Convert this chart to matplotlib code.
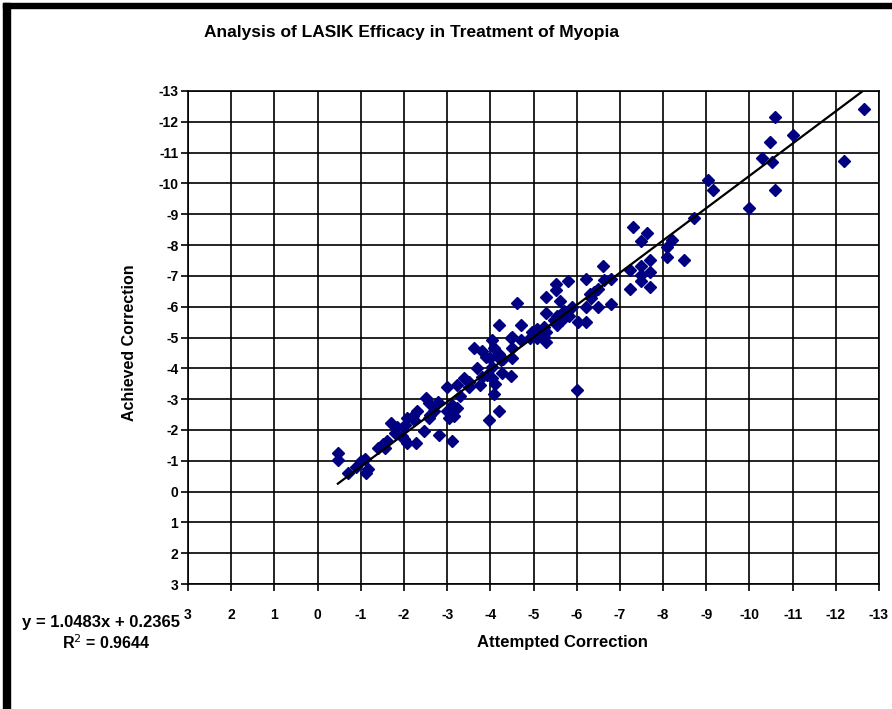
import matplotlib

matplotlib.use("Agg")
import matplotlib.pyplot as plt
import numpy as np
from matplotlib.patches import Rectangle

# attempted vs achieved correction (diopters)
attempted = [
    -12.65, -10.6, -11.0, -10.48, -10.3, -10.52, -12.2, -9.03, -9.15, -10.6, -10.0,
    -8.72, -7.3, -7.63, -7.5, -8.2, -8.09, -8.09, -8.49, -7.7, -7.5, -7.7, -7.23,
    -7.5, -7.5, -7.7, -7.23, -6.62, -6.63,
    -6.21, -5.8, -5.52, -6.5, -6.4, -5.52, -5.28, -5.62, -6.33, -4.61, -6.21, -6.5,
    -6.8, -5.28, -5.71, -5.55, -5.82, -5.48, -5.67, -6.02, -6.21, -4.7, -5.55, -5.24,
    -5.09, -4.97, -5.28, -5.24, -5.09, -5.28, -4.5, -4.7, -4.93,
    -4.2, -4.49, -4.05, -3.62, -3.81, -4.08, -4.2, -4.51, -4.0, -4.24, -4.51, -3.7,
    -4.05, -4.27, -4.47, -3.81, -4.05, -3.39, -3.5, -3.76, -4.1, -3.0, -3.23, -4.08,
    -3.9, -3.93, -2.5, -2.8, -2.57, -3.11, -3.23, -3.0, -3.15, -3.04, -2.3, -2.07,
    -2.23, -1.69, -3.97,
    -0.47, -0.47, -0.71, -1.0, -1.09, -1.17, -1.11, -1.51, -1.61, -1.84, -1.8, -1.57,
    -1.96, -2.03, -2.0, -2.27, -2.07, -2.46, -2.81, -2.21, -2.57,
    -6.0, -3.11, -4.2, -2.7, -3.5, -4.3, -5.0, -5.9, -6.3, -6.8, -3.3, -2.6, -1.4,
    -0.9,
]
achieved = [
    -12.4, -12.17, -11.57, -11.33, -10.82, -10.7, -10.72, -10.12, -9.8, -9.8, -9.2,
    -8.87, -8.57, -8.39, -8.13, -8.17, -7.93, -7.61, -7.53, -7.53, -7.31, -7.14, -7.2,
    -7.03, -6.82, -6.64, -6.56, -7.33, -6.85,
    -6.9, -6.82, -6.74, -6.58, -6.47, -6.53, -6.31, -6.2, -6.28, -6.13, -5.99, -5.99,
    -6.1, -5.8, -5.85, -5.7, -5.7, -5.56, -5.56, -5.5, -5.5, -5.4, -5.4, -5.35,
    -5.27, -5.18, -5.18, -5.02, -4.97, -4.84, -5.02, -4.91, -4.97,
    -5.4, -4.99, -4.91, -4.65, -4.56, -4.65, -4.48, -4.65, -4.32, -4.27, -4.32, -4.0,
    -4.05, -3.84, -3.76, -3.73, -3.68, -3.68, -3.57, -3.46, -3.48, -3.38, -3.46, -3.16,
    -4.37, -3.78, -3.03, -2.9, -2.87, -2.82, -2.71, -2.62, -2.44, -2.39, -2.6, -2.39,
    -2.33, -2.23, -2.33,
    -1.26, -1.04, -0.61, -0.99, -1.07, -0.72, -0.61, -1.53, -1.63, -2.09, -1.9, -1.42,
    -1.8, -2.17, -1.69, -1.58, -1.58, -1.96, -1.85, -2.45, -2.39,
    -3.3, -1.65, -2.6, -2.6, -3.4, -4.3, -5.1, -6.0, -6.4, -6.9, -3.1, -2.5, -1.4,
    -0.8,
]

# linear trendline as reported on the chart
SLOPE, INTERCEPT, R2 = 1.0483, 0.2365, 0.9644
ticks = list(range(3, -14, -1))

W, H = 892, 709
fig = plt.figure(figsize=(W / 100, H / 100), dpi=100)
plt.rcParams["font.family"] = ["Liberation Sans", "DejaVu Sans"]


def px(x, y):
    return x / W, 1 - y / H


ax = fig.add_axes([188 / W, 1 - 584 / H, (879 - 188) / W, (584 - 91) / H])
ax.set_xlim(3, -13)
ax.set_ylim(3, -13)
ax.set_xticks(ticks)
ax.set_yticks(ticks)
ax.set_xticklabels([str(t) for t in ticks], fontsize=10, fontweight="bold")
ax.set_yticklabels([str(t) for t in ticks], fontsize=10, fontweight="bold")
ax.grid(True, color="black", lw=1.2)
ax.set_axisbelow(True)
for s in ax.spines.values():
    s.set_color("black")
    s.set_linewidth(1.2)
ax.tick_params(axis="x", length=5, width=1.2, pad=12)
ax.tick_params(axis="y", length=5, width=1.2, pad=2)

ax.plot(attempted, achieved, "D", color="#000080", ms=5.8, mec="#000080", zorder=3)
xs = np.array([max(attempted), min(attempted)])
ax.plot(xs, SLOPE * xs + INTERCEPT, color="black", lw=1.6, zorder=4)

fig.text(*px(411, 33), "Analysis of LASIK Efficacy in Treatment of Myopia",
         ha="center", va="center", fontsize=12.5, fontweight="bold")
fig.text(*px(130, 343), "Achieved Correction", rotation=90,
         ha="center", va="center", fontsize=11.5, fontweight="bold")
fig.text(*px(562, 643), "Attempted Correction",
         ha="center", va="center", fontsize=12, fontweight="bold")
fig.text(*px(22, 623), f"y = {SLOPE}x + {INTERCEPT}",
         ha="left", va="center", fontsize=12, fontweight="bold")
fig.text(*px(62, 643), f"R$^2$ = {R2}",
         ha="left", va="center", fontsize=11.5, fontweight="bold")

# outer chart frame (cropped on right and bottom)
fig.patches.append(Rectangle(px(3, H + 5), 7 / W, (H + 2) / H, transform=fig.transFigure,
                             color="black", zorder=10))
fig.patches.append(Rectangle(px(3, 8), (W) / W, 5 / H, transform=fig.transFigure,
                             color="black", zorder=10))

fig.savefig("out.png", dpi=100)
